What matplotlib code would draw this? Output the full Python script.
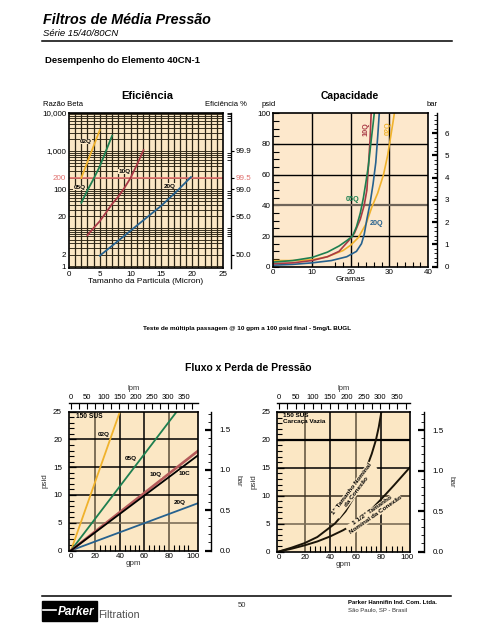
import numpy as np
import matplotlib
matplotlib.use("Agg")
import matplotlib.pyplot as plt
from matplotlib.lines import Line2D
from matplotlib.patches import Rectangle
from matplotlib.ticker import NullFormatter

plt.rcParams['font.family'] = ['Liberation Sans', 'DejaVu Sans']

W, H = 495, 640

# ---- Eficiência: tamanho da partícula (micron) x razão beta
ef_02q_x = [2, 3, 4, 5]
ef_02q_beta = [200, 520, 1350, 3500]
ef_05q_x = [2, 3, 4, 5, 6, 7]
ef_05q_beta = [45, 95, 190, 400, 1000, 2500]
ef_10q_x = [3, 4, 5, 6, 7, 8, 9, 10, 11, 12.1]
ef_10q_beta = [6.5, 10, 15, 25, 42, 65, 110, 200, 430, 1050]
ef_20q_x = [5, 7.5, 10, 12.5, 15, 17.5, 19.8]
ef_20q_beta = [1.9, 4, 8.5, 18, 38, 90, 210]
beta_ticks = [1, 2, 20, 100, 200, 1000, 10000]
beta_labels = ['1', '2', '20', '100', '200', '1,000', '10,000']
eff_ticks = [2, 20, 100, 200, 1000]
eff_labels = ['50.0', '95.0', '99.0', '99.5', '99.9']

# ---- Capacidade: gramas x psid
cap_02q_g = [0, 5, 10, 14, 18, 20, 22, 24, 25.5, 27, 28.5, 29.6, 30.3, 31, 31.3]
cap_02q_p = [4, 4, 4.5, 6.5, 10.5, 14, 19, 28, 39, 48, 60, 73, 84, 95, 100]
cap_05q_g = [0, 5, 10, 14, 17, 19, 20.5, 21.5, 22.5, 23.3, 24, 24.6, 25.2, 25.8, 26.1]
cap_05q_p = [3, 4, 6, 9.5, 13.5, 17, 20, 26, 35, 45, 56, 66, 80, 93, 100]
cap_10q_g = [0, 5, 10, 14, 17, 19.5, 21, 22.5, 23.5, 24.2, 24.6, 25, 25.3]
cap_10q_p = [2, 2.5, 4, 6.5, 10, 17, 22, 31, 40, 50, 66, 82, 100]
cap_20q_g = [0, 5, 10, 15, 19, 21.5, 22.8, 23.5, 24.2, 25, 25.8, 26.5, 27, 27.4]
cap_20q_p = [1, 1.5, 2.5, 4, 6.5, 10, 15, 21, 31, 41, 54, 68, 85, 100]

# ---- Fluxo x perda de pressão: gpm x psid
fl_02q_gpm, fl_02q_psid = [0, 40], [0, 25]
fl_05q_gpm, fl_05q_psid = [0, 86.4], [0, 25]
fl_10q_gpm, fl_10q_psid = [0, 103.6], [0, 17.9]
fl_10c_gpm, fl_10c_psid = [0, 103.6], [0, 17.1]
fl_20q_gpm, fl_20q_psid = [0, 103.6], [0, 8.5]
car_1_gpm = [0, 10, 20, 30, 43.7, 52, 59.4, 64, 68.5, 72.5, 75.8, 78, 80]
car_1_psid = [0, 0.7, 1.5, 2.6, 5, 7.2, 10, 12.3, 15, 17.5, 20, 22.3, 25]
car_15_gpm = [0, 10, 20, 30, 40, 50, 60, 70, 80, 90, 102.4]
car_15_psid = [0, 0.5, 1.1, 1.8, 2.7, 3.8, 5.1, 7.0, 9.4, 11.9, 15.1]

AMARELO = '#f0b22c'
VERDE = '#1e7f50'
VERMELHO = '#a83945'
AZUL = '#26618e'
BEGE = '#fbe7c4'
PESSEGO = '#fde8cc'
GRADE = '#2b2415'
CINZA = '#7d6f58'
RED_REF = '#e0716f'
PSI_BAR = 14.5038
GPM_LPM = 3.785


def rect(x0, y0, x1, y1):
    return [x0 / W, 1 - y1 / H, (x1 - x0) / W, (y1 - y0) / H]


def fx(x):
    return x / W


def fy(y):
    return 1 - y / H


def rotulo(ax, x, y, s, cor='black', fs=4.6, **kw):
    ax.text(x, y, s, fontsize=fs, fontweight='bold', color=cor, ha='center', va='center',
            bbox=dict(fc=ax.get_facecolor(), ec='none', pad=0.2), zorder=5, **kw)


fig = plt.figure(figsize=(W / 100, H / 100), dpi=100)

# ---- cabeçalho
fig.text(fx(43), fy(24.5), 'Filtros de Média Pressão', fontsize=10.3, fontweight='bold',
         fontstyle='italic', va='baseline')
fig.text(fx(43), fy(36), 'Série 15/40/80CN', fontsize=6.8, fontstyle='italic', va='baseline')
fig.add_artist(Line2D([fx(42), fx(452)], [fy(40.7)] * 2, color='black', lw=1.1,
                      transform=fig.transFigure))
fig.text(fx(45), fy(63), 'Desempenho do Elemento 40CN-1', fontsize=6.8, fontweight='bold',
         va='baseline')

# ---- Eficiência
ax = fig.add_axes(rect(69, 112.5, 223, 268))
ax.set_facecolor(BEGE)
ax.set_yscale('log')
ax.set_xlim(0, 25)
ax.set_ylim(0.91, 10000)
linhas_y = [m * d for d in (1, 10, 100, 1000)
            for m in (1, 2, 3, 4, 5, 6, 7, 8, 9)] + [10000]
ax.hlines(linhas_y, 0, 25, color=GRADE, lw=0.65)
ax.vlines(np.arange(1, 25), 0.91, 10000, color=GRADE, lw=0.9)
ax.axhline(200, color=RED_REF, lw=1.2)
ax.plot(ef_02q_x, ef_02q_beta, color=AMARELO, lw=1.3)
ax.plot(ef_05q_x, ef_05q_beta, color=VERDE, lw=1.3)
ax.plot(ef_10q_x, ef_10q_beta, color=VERMELHO, lw=1.3)
ax.plot(ef_20q_x, ef_20q_beta, color=AZUL, lw=1.3)
rotulo(ax, 2.76, 1740, '02Q')
rotulo(ax, 1.67, 111, '05Q')
rotulo(ax, 8.98, 290, '10Q')
rotulo(ax, 16.4, 123, '20Q')
ax.set_yticks(beta_ticks, beta_labels)
ax.set_yticks([], minor=True)
ax.get_yticklabels()[4].set_color(RED_REF)
ax.set_xticks(range(0, 26, 5))
ax.tick_params(length=0, pad=2, labelsize=5.8)
ax.set_xlabel('Tamanho da Particula (Micron)', fontsize=6, labelpad=0)
for sp in ax.spines.values():
    sp.set_linewidth(1.2)
sec = ax.secondary_yaxis(1.052, functions=(lambda v: v, lambda v: v))
sec.set_yticks(eff_ticks, eff_labels)
sec.set_yticks([m * d for d in (1, 10, 100, 1000) for m in (6, 7, 8, 9, 10)], minor=True)
sec.yaxis.set_minor_formatter(NullFormatter())
sec.tick_params(which='major', direction='out', length=2.5, width=0.8, pad=0.5, labelsize=5.8)
sec.tick_params(which='minor', direction='in', length=3, width=0.6)
sec.get_yticklabels()[3].set_color(RED_REF)
sec.spines['right'].set_linewidth(1.0)
fig.text(fx(147), fy(99), 'Eficiência', fontsize=8, fontweight='bold', ha='center', va='baseline')
fig.text(fx(43), fy(106), 'Razão Beta', fontsize=5.5, va='baseline')
fig.text(fx(247), fy(106), 'Eficiência %', fontsize=5.5, ha='right', va='baseline')

# ---- Capacidade
cap = fig.add_axes(rect(273.3, 113.3, 428, 266.7))
cap.set_facecolor(PESSEGO)
cap.set_xlim(0, 40)
cap.set_ylim(0, 100)
cap.vlines([10, 20, 30], 0, 100, color='black', lw=1)
cap.hlines([20, 60, 80], 0, 40, color='black', lw=1)
cap.hlines([40], 0, 40, color='#6f655a', lw=1.6)
cap.plot(cap_02q_g, cap_02q_p, color=AMARELO, lw=1.2)
cap.plot(cap_20q_g, cap_20q_p, color=AZUL, lw=1.2)
cap.plot(cap_10q_g, cap_10q_p, color=VERMELHO, lw=1.2)
cap.plot(cap_05q_g, cap_05q_p, color=VERDE, lw=1.2)
cap.text(29.8, 90, '02Q', fontsize=5.2, fontweight='bold', color=AMARELO, rotation=90,
         ha='center', va='center')
cap.text(24.0, 90, '10Q', fontsize=5.2, fontweight='bold', color=VERMELHO, rotation=90,
         ha='center', va='center')
cap.text(20.4, 44, '05Q', fontsize=5.2, fontweight='bold', color=VERDE, ha='center', va='center')
cap.text(26.7, 28, '20Q', fontsize=5.2, fontweight='bold', color=AZUL, ha='center', va='center')
cap.set_xticks(range(0, 41, 10))
cap.set_xticks(np.arange(16, 39, 2), minor=True)
cap.set_yticks(range(0, 101, 20))
cap.set_yticks(range(0, 101, 5), minor=True)
cap.tick_params(axis='x', which='major', length=0, pad=2, labelsize=5.8)
cap.tick_params(axis='x', which='minor', direction='in', length=3.5, width=0.8)
cap.tick_params(axis='y', which='both', direction='in', length=4, width=0.8, pad=2, labelsize=5.8)
cap.set_xlabel('Gramas', fontsize=6, labelpad=0)
for sp in cap.spines.values():
    sp.set_linewidth(1.2)
capb = cap.secondary_yaxis(1.055, functions=(lambda p: p / PSI_BAR, lambda b: b * PSI_BAR))
capb.set_yticks(range(0, 7))
capb.set_yticks(np.arange(0, 6.9, 0.2), minor=True)
capb.yaxis.set_minor_formatter(NullFormatter())
capb.tick_params(which='major', direction='in', length=3.5, width=1.6, pad=6, labelsize=5.8)
capb.tick_params(which='minor', direction='in', length=2.5, width=0.6)
capb.spines['right'].set_linewidth(1.0)
fig.text(fx(350), fy(99), 'Capacidade', fontsize=7.5, fontweight='bold', ha='center',
         va='baseline')
fig.text(fx(262), fy(106), 'psid', fontsize=5.5, va='baseline')
fig.text(fx(427), fy(106), 'bar', fontsize=5.5, va='baseline')

fig.text(fx(247), fy(330), 'Teste de múltipla passagem @ 10 gpm a 100 psid final - 5mg/L BUGL',
         fontsize=4.6, fontweight='bold', ha='center', va='baseline')
fig.text(fx(248), fy(371), 'Fluxo x Perda de Pressão', fontsize=7.5, fontweight='bold',
         ha='center', va='baseline')


def eixo_fluxo(a, xmin, xmax, verticais, horizontais, off_top, off_right):
    a.set_facecolor(BEGE)
    a.set_xlim(xmin, xmax)
    a.set_ylim(0, 25)
    for xv, cor, lw in verticais:
        a.axvline(xv, color=cor, lw=lw, zorder=1)
    for yh, cor, lw in horizontais:
        a.axhline(yh, color=cor, lw=lw, zorder=1)
    a.set_xticks(range(0, 101, 20))
    a.set_xticks(np.arange(20, 101, 4), minor=True)
    a.set_yticks(range(0, 26, 5))
    a.set_yticks(range(0, 26, 1), minor=True)
    a.tick_params(axis='x', which='major', length=0, pad=2, labelsize=5.8)
    a.tick_params(axis='x', which='minor', direction='in', length=4, width=0.8)
    a.tick_params(axis='y', which='major', direction='in', length=5, width=0.9, pad=5, labelsize=5.8)
    a.tick_params(axis='y', which='minor', direction='in', length=3.5, width=0.8)
    a.set_xlabel('gpm', fontsize=5.8, labelpad=0, color='#333333')
    a.set_ylabel('psid', fontsize=5.8, labelpad=3, color='#333333')
    for sp in a.spines.values():
        sp.set_linewidth(1.2)
    top = a.secondary_xaxis(off_top, functions=(lambda g: g * GPM_LPM, lambda l: l / GPM_LPM))
    top.set_xticks(range(0, 351, 50))
    top.set_xticks(range(25, 376, 50), minor=True)
    top.xaxis.set_minor_formatter(NullFormatter())
    top.tick_params(which='both', direction='in', length=4, width=0.8, pad=1.5, labelsize=5.5)
    top.set_xlabel('lpm', fontsize=5.5, labelpad=3, color='#333333')
    top.spines['top'].set_linewidth(1.0)
    rb = a.secondary_yaxis(off_right, functions=(lambda p: p / PSI_BAR, lambda b: b * PSI_BAR))
    rb.set_yticks([0, 0.5, 1.0, 1.5], ['0.0', '0.5', '1.0', '1.5'])
    rb.set_yticks(np.arange(0, 1.72, 0.1), minor=True)
    rb.yaxis.set_minor_formatter(NullFormatter())
    rb.tick_params(which='major', direction='in', length=4, width=1.6, pad=6, labelsize=5.8)
    rb.tick_params(which='minor', direction='in', length=2.5, width=0.6)
    rb.set_ylabel('bar', fontsize=5.8, rotation=270, labelpad=8, color='#333333')
    rb.spines['right'].set_linewidth(1.0)


# ---- Fluxo: elemento
fl = fig.add_axes(rect(69, 411.7, 197.7, 550.5))
eixo_fluxo(fl, -1.6, 103.6,
           [(20, CINZA, 1.4), (40, 'black', 1.1), (60, 'black', 1.1), (80, CINZA, 1.4)],
           [(5, CINZA, 1.2), (10, 'black', 1.1), (15, 'black', 1.1), (20, 'black', 1.1)],
           1.06, 1.103)
fl.plot(fl_02q_gpm, fl_02q_psid, color=AMARELO, lw=1.3)
fl.plot(fl_05q_gpm, fl_05q_psid, color=VERDE, lw=1.3)
fl.plot(fl_20q_gpm, fl_20q_psid, color=AZUL, lw=1.3)
fl.plot(fl_10q_gpm, fl_10q_psid, color='#b45a5a', lw=1.9)
fl.plot(fl_10c_gpm, fl_10c_psid, color='black', lw=1.3)
fl.text(4.1, 24.1, '150 SUS', fontsize=4.8, fontweight='bold', ha='left', va='center')
rotulo(fl, 26.4, 20.9, '02Q')
rotulo(fl, 49, 16.5, '05Q')
rotulo(fl, 69.5, 13.6, '10Q')
rotulo(fl, 92.4, 13.8, '10C')
rotulo(fl, 89, 8.6, '20Q')

# ---- Fluxo: carcaça vazia
fr = fig.add_axes(rect(277.3, 412, 410, 551.5))
eixo_fluxo(fr, -1.3, 102.4,
           [(20, CINZA, 1.4), (40, 'black', 1.1), (60, CINZA, 1.4), (80, 'black', 1.1)],
           [(5, CINZA, 1.2), (10, '#3a3020', 1.1), (15, 'black', 1.1), (20, 'black', 1.6)],
           1.065, 1.105)
fr.plot(car_1_gpm, car_1_psid, color='#1a1408', lw=1.4)
fr.plot(car_15_gpm, car_15_psid, color='#1a1408', lw=1.4)
fr.text(3.1, 24.8, '150 SUS\nCarcaça Vazia', fontsize=4.6, fontweight='bold', ha='left',
        va='top', linespacing=1.3)
fr.text(58.6, 11.0, '1" Tamanho Nominal\nda Conexão', fontsize=4.6, fontweight='bold',
        rotation=53, ha='center', va='center', rotation_mode='anchor', linespacing=1.1,
        bbox=dict(fc=BEGE, ec='none', pad=0.2))
fr.text(74.2, 6.9, '1 1/2" Tamanho\nNominal da Conexão', fontsize=4.6, fontweight='bold',
        rotation=35, ha='center', va='center', rotation_mode='anchor', linespacing=1.1,
        bbox=dict(fc=BEGE, ec='none', pad=0.2))

# ---- rodapé
fig.add_artist(Line2D([fx(42), fx(451)], [fy(595.7)] * 2, color='black', lw=1.1,
                      transform=fig.transFigure))
fig.add_artist(Rectangle((fx(42), fy(621)), 55 / W, 20.3 / H, color='black',
                         transform=fig.transFigure))
fig.add_artist(Line2D([fx(43), fx(56)], [fy(609.5)] * 2, color='white', lw=1.2,
                      transform=fig.transFigure))
fig.text(fx(76), fy(615), 'Parker', fontsize=8.5, fontweight='bold', fontstyle='italic',
         color='white', ha='center', va='baseline')
fig.text(fx(98), fy(617.5), 'Filtration', fontsize=7.7, color='#4d4d4d', va='baseline')
fig.text(fx(238), fy(607), '50', fontsize=5.5, color='#333333', va='baseline')
fig.text(fx(347.5), fy(604), 'Parker Hannifin Ind. Com. Ltda.', fontsize=4.3,
         fontweight='bold', va='baseline')
fig.text(fx(347.5), fy(611.7), 'São Paulo, SP - Brasil', fontsize=4.3, color='#333333',
         va='baseline')

fig.savefig('out.png', dpi=100)
